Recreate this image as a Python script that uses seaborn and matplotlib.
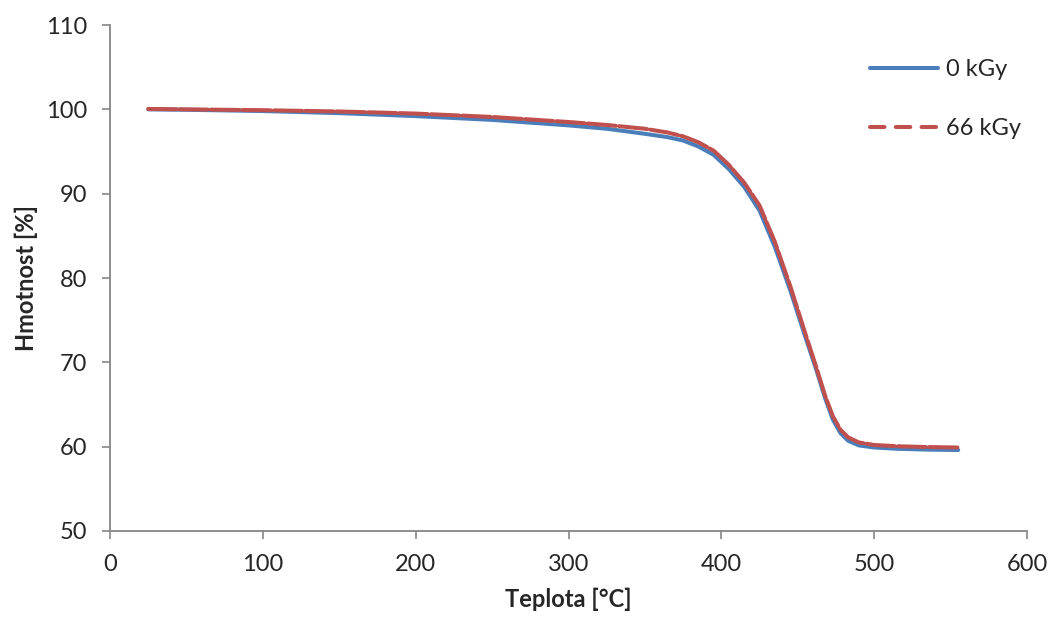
import matplotlib.pyplot as plt
from matplotlib.lines import Line2D
import pandas as pd
import seaborn as sns

# ── data ─────────────────────────────────────────────────────────────────────
temp_c = [25, 50, 100, 150, 200, 250, 300, 325, 350, 365, 375, 385, 395, 405,
          415, 425, 435, 445, 455, 462, 468, 473, 478, 483, 490, 500, 515, 535, 555]
mass_0kgy = [100.0, 99.95, 99.8, 99.55, 99.2, 98.75, 98.1, 97.7, 97.1, 96.7, 96.3,
             95.6, 94.6, 92.9, 90.8, 88.0, 83.7, 78.6, 73.0, 69.2, 65.7, 63.2,
             61.6, 60.7, 60.15, 59.9, 59.75, 59.65, 59.6]
mass_66kgy = [100.05, 100.0, 99.9, 99.75, 99.5, 99.1, 98.5, 98.15, 97.7, 97.25, 96.8,
              96.1, 95.1, 93.4, 91.3, 88.6, 84.3, 79.1, 73.4, 69.5, 66.0, 63.6,
              62.0, 61.1, 60.5, 60.2, 60.05, 59.95, 59.9]
series_labels = ["0 kGy", "66 kGy"]
x_ticks = [0, 100, 200, 300, 400, 500, 600]
y_ticks = [50, 60, 70, 80, 90, 100, 110]

BLUE = "#4A7EBB"
RED = "#C0504D"
GREY = "#868686"

sns.set_theme(style="white")
plt.rcParams["font.family"] = ["Lato", "DejaVu Sans"]

df0 = pd.DataFrame({"temp": temp_c, "mass": mass_0kgy})
df66 = pd.DataFrame({"temp": temp_c, "mass": mass_66kgy})

fig = plt.figure(figsize=(10.52, 6.18), dpi=100)
ax = fig.add_axes([0.1046, 0.1408, 0.8716, 0.8187])

sns.lineplot(data=df0, x="temp", y="mass", ax=ax, color=BLUE, linewidth=2.9,
             sort=False, estimator=None)
sns.lineplot(data=df66, x="temp", y="mass", ax=ax, color=RED, linewidth=2.9,
             sort=False, estimator=None)
ax.lines[1].set_dashes((7, 0.8))
for ln in ax.lines:
    ln.set_solid_capstyle("round")
    ln.set_dash_capstyle("round")
    ln.set_solid_joinstyle("round")

ax.set_xlim(0, 600)
ax.set_ylim(50, 110)
ax.set_xticks(x_ticks)
ax.set_yticks(y_ticks)
ax.tick_params(axis="both", direction="out", length=5.5, width=1.2, color=GREY,
               labelsize=17, bottom=True, left=True)
ax.tick_params(axis="x", pad=11)
ax.tick_params(axis="y", pad=11)
for side in ["top", "right"]:
    ax.spines[side].set_visible(False)
for side in ["left", "bottom"]:
    ax.spines[side].set_color(GREY)
    ax.spines[side].set_linewidth(1.3)

ax.set_xlabel("Teplota [°C]", fontsize=17, fontweight="bold", labelpad=9)
ax.set_ylabel("Hmotnost [%]", fontsize=17, fontweight="bold", labelpad=6)

handles = [
    Line2D([0], [0], color=BLUE, linewidth=2.9, solid_capstyle="round"),
    Line2D([0], [0], color=RED, linewidth=2.9, dashes=(3.6, 2.8), dash_capstyle="round"),
]
ax.legend(handles, series_labels, loc="upper right", bbox_to_anchor=(1.017, 0.975),
          frameon=False, fontsize=17, handlelength=2.9, handletextpad=0.35,
          labelspacing=1.62)

plt.savefig("out.png", dpi=100)
plt.close()
